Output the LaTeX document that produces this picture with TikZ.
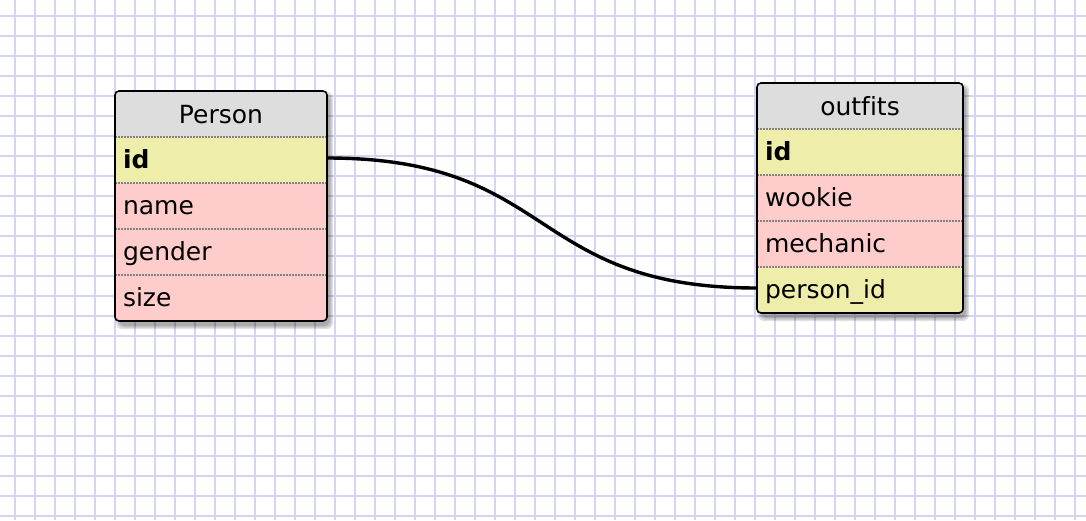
\documentclass[tikz,border=0pt]{standalone}
\usepackage{xcolor}
\usepackage{fontspec}
\setmainfont{DejaVu Sans}[Ligatures=NoCommon]
\usepackage{tikz}
\usetikzlibrary{calc}
\usetikzlibrary{positioning}
\usetikzlibrary{backgrounds}
\pgfdeclarelayer{paper}
\pgfsetlayers{paper,background,main}
\definecolor{gridblue}{RGB}{212,212,244}
\definecolor{headgray}{RGB}{221,221,221}
\definecolor{keyyellow}{RGB}{238,238,170}
\definecolor{colpink}{RGB}{255,204,204}
\definecolor{sepgray}{RGB}{130,130,130}
\tikzset{>=latex}
\tikzstyle{gridline} = [draw=gridblue, line width=1.6pt]
\tikzstyle{cell} = [rectangle, inner xsep=8pt, inner ysep=0pt, outer sep=0pt, minimum height=46pt, text height=22pt, text depth=6pt, align=left, font=\fontsize{25}{28}\selectfont]
\tikzstyle{colhead} = [cell, fill=headgray, align=center, text depth=3pt]
\tikzstyle{key} = [cell, fill=keyyellow]
\tikzstyle{col} = [cell, fill=colpink]
\tikzstyle{rowsep} = [draw=sepgray, line width=1.3pt, dash pattern=on 1.5pt off 1.5pt]
\tikzstyle{tableframe} = [draw=black, line width=1.6pt, rounded corners=4pt]
\tikzstyle{tableshade} = [fill=black, fill opacity=.12, rounded corners=6pt]
\tikzstyle{rel} = [-, line width=3.4pt]

\begin{document}
\begin{tikzpicture}[x=1pt, y=-1pt]
\useasboundingbox (0,0) rectangle (1086,520);
\begin{pgfonlayer}{paper}
\fill [white] (0,0) rectangle (1086,520);
\foreach \x in {15,35,...,1075} \draw [gridline] (\x,0) -- (\x,520);
\foreach \y in {16,36,...,516} \draw [gridline] (0,\y) -- (1086,\y);
\end{pgfonlayer}

% Person
\begin{scope}[every node/.append style={text width=196pt}]
\node [colhead] (P) at (221,114) {Person};
\node [key] (Pid) at (221,160) {\bfseries id};
\node [col] (Pname) at (221,206) {name};
\node [col] (Pgender) at (221,252) {gender};
\node [col] (Psize) at (221,298) {size};
\end{scope}

% outfits
\begin{scope}[every node/.append style={text width=190pt}]
\node [colhead] (O) at (860,106) {outfits};
\node [key] (Oid) at (860,152) {\bfseries id};
\node [col] (Owookie) at (860,198) {wookie};
\node [col] (Omechanic) at (860,244) {mechanic};
\node [key] (Opid) at (860,290) {person\_id};
\end{scope}

\foreach \r in {Pid,Pname,Pgender,Psize,Oid,Owookie,Omechanic,Opid}
  \draw [rowsep] (\r.north west) -- (\r.north east);

\begin{scope}[on background layer]
\foreach \s in {0,1.5,3} {
  \fill [tableshade] ($(P.north west)+(4-\s,4-\s)$) rectangle ($(Psize.south east)+(3+\s,5+\s)$);
  \fill [tableshade] ($(O.north west)+(4-\s,4-\s)$) rectangle ($(Opid.south east)+(3+\s,5+\s)$);
}
\end{scope}
\draw [tableframe] (P.north west) rectangle (Psize.south east);
\draw [tableframe] (O.north west) rectangle (Opid.south east);

\draw [rel] ([yshift=2pt]Pid.east) .. controls +(230,0) and +(-230,0) .. ([yshift=2pt]Opid.west);
\end{tikzpicture}
\end{document}
